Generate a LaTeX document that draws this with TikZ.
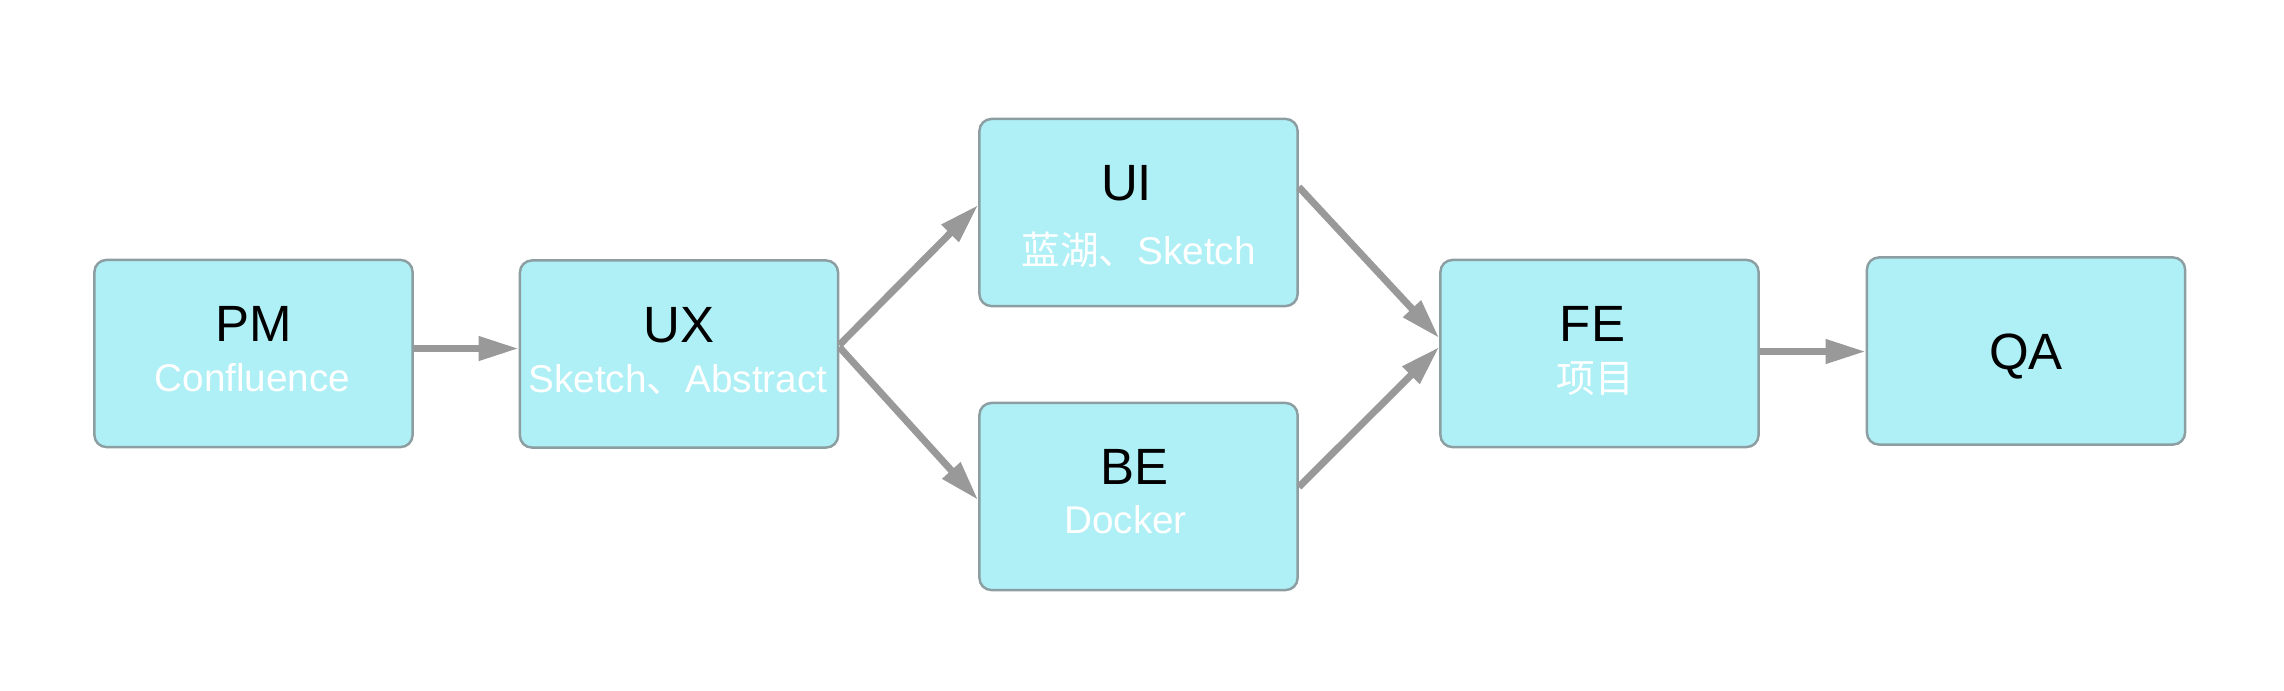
\documentclass[tikz,border=0pt]{standalone}
\usepackage{fontspec}
\setmainfont{Liberation Sans}
\newfontfamily\cjk{Noto Sans CJK SC}
\usetikzlibrary{arrows.meta,calc}
\definecolor{boxfill}{HTML}{AEF0F5}
\definecolor{boxline}{HTML}{8C9EA1}
\definecolor{arrowgray}{HTML}{999999}
\tikzset{
  stagebox/.style={draw=boxline, line width=0.7pt, fill=boxfill, rounded corners=0.12cm,
    minimum width=3.18cm, minimum height=1.87cm, inner sep=0pt},
  mainlabel/.style={anchor=base, inner sep=0pt, font=\fontsize{14.5}{16}\selectfont, text=black},
  sublabel/.style={anchor=base, inner sep=0pt, font=\fontsize{11}{13}\selectfont, text=white},
  flow/.style={draw=arrowgray, line width=0.07cm, -{Triangle[length=0.4cm,width=0.23cm]}}
}
\begin{document}
\begin{tikzpicture}[x=0.01cm, y=-0.01cm]
\useasboundingbox (0,0) rectangle (2284,690);
\node[stagebox] (PM) at (253.5,353.5) {};
\node[stagebox] (UX) at (679,354) {};
\node[stagebox] (UI) at (1138.5,212.5) {};
\node[stagebox] (BE) at (1138.5,496.5) {};
\node[stagebox] (FE) at (1599.5,353.5) {};
\node[stagebox] (QA) at (2026,351) {};

\node[mainlabel] (PMt) at ($(PM.north)+(0,83)$) {PM};
\node[sublabel] (PMs) at ($(PM.north)+(-1,133)$) {Confluence};
\node[mainlabel] (UXt) at ($(UX.north)+(0,83)$) {UX};
\node[sublabel] (UXs) at ($(UX.north)+(-1,133)$) {Sketch{\cjk 、}Abstract};
\node[mainlabel] (UIt) at ($(UI.north)+(-12,83)$) {UI};
\node[sublabel] (UIs) at ($(UI.north)+(0,147)$) {{\cjk 蓝湖、}Sketch};
\node[mainlabel] (BEt) at ($(BE.north)+(-4,83)$) {BE};
\node[sublabel] (BEs) at ($(BE.north)+(-13,132)$) {Docker};
\node[mainlabel] (FEt) at ($(FE.north)+(-7,83)$) {FE};
\node[sublabel] (FEs) at ($(FE.north)+(-4,134)$) {\cjk 项目};
\node[mainlabel] (QAt) at ($(QA.center)+(0,18)$) {QA};

\draw[flow] ($(PM.east)+(0,-5)$) -- ($(UX.west)+(0,-5.5)$);
\draw[flow] ($(UX.east)+(0,-9)$) -- ($(UI.west)+(0,-7.5)$);
\draw[flow] ($(UX.east)+(0,-7)$) -- ($(BE.west)+(0,3.5)$);
\draw[flow] ($(UI.east)+(0,-25.5)$) -- ($(FE.west)+(0,-15.5)$);
\draw[flow] ($(BE.east)+(0,-9.5)$) -- ($(FE.west)+(0,-6.5)$);
\draw[flow] ($(FE.east)+(0,-2)$) -- ($(QA.west)+(0,0.5)$);
\end{tikzpicture}
\end{document}
